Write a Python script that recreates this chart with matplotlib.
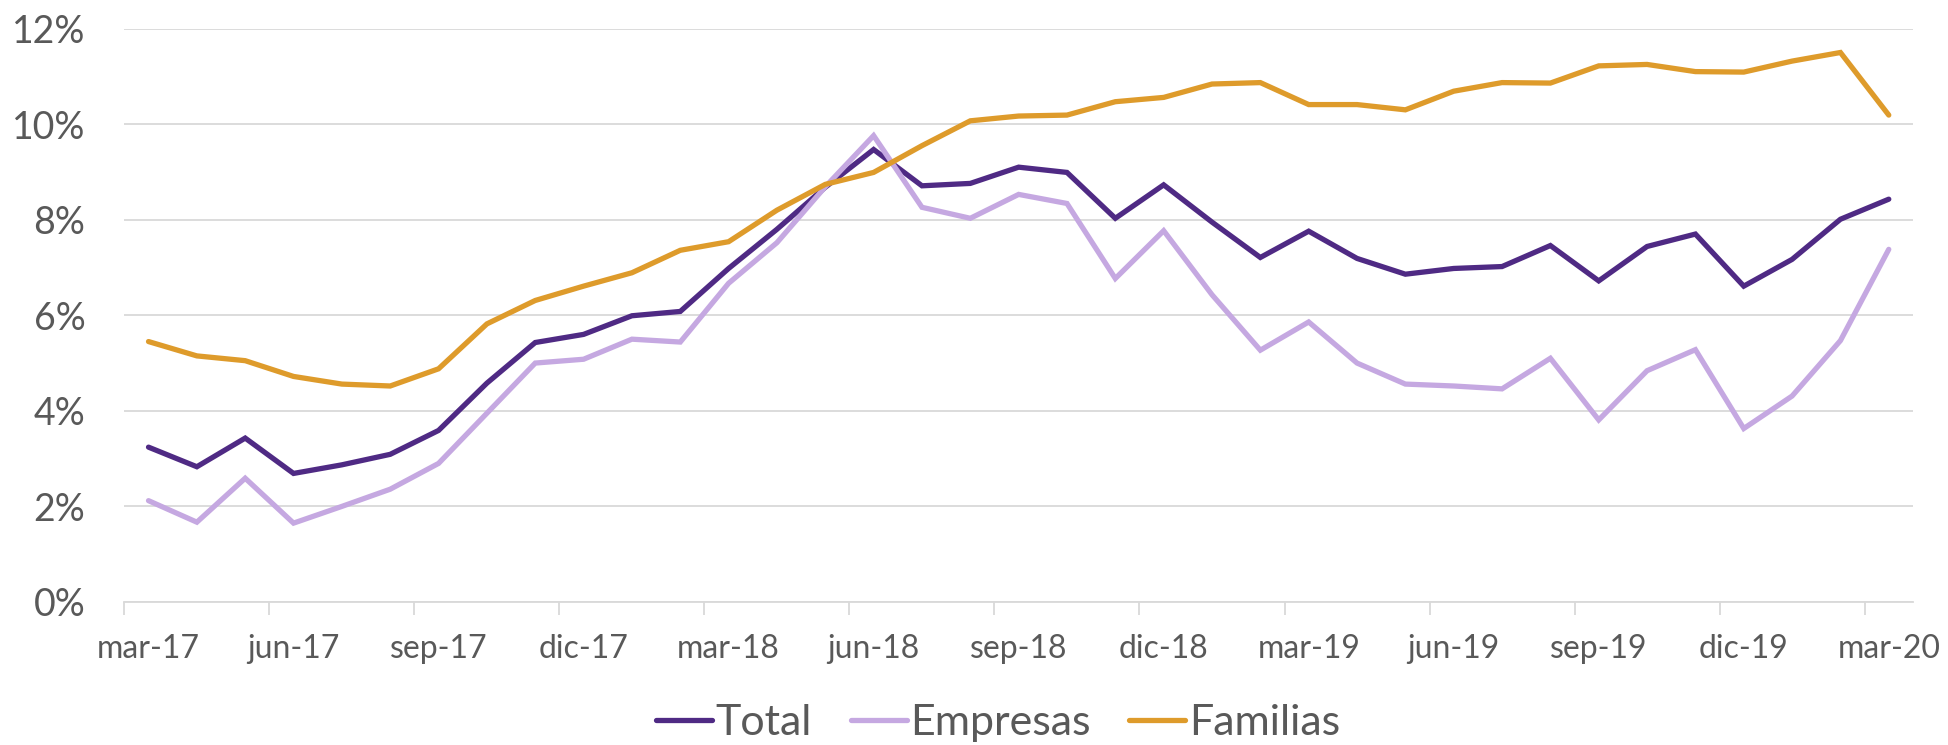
import matplotlib
matplotlib.use("Agg")
import matplotlib.pyplot as plt
from matplotlib.ticker import FixedLocator, PercentFormatter

months = ["mar-17", "abr-17", "may-17", "jun-17", "jul-17", "ago-17", "sep-17", "oct-17", "nov-17",
          "dic-17", "ene-18", "feb-18", "mar-18", "abr-18", "may-18", "jun-18", "jul-18", "ago-18",
          "sep-18", "oct-18", "nov-18", "dic-18", "ene-19", "feb-19", "mar-19", "abr-19", "may-19",
          "jun-19", "jul-19", "ago-19", "sep-19", "oct-19", "nov-19", "dic-19", "ene-20", "feb-20",
          "mar-20"]

total = [3.24, 2.83, 3.43, 2.69, 2.87, 3.09, 3.59, 4.58, 5.43, 5.60, 5.99, 6.08,
         6.98, 7.80, 8.68, 9.47, 8.71, 8.76, 9.10, 8.99, 8.03, 8.73, 7.95, 7.21,
         7.76, 7.19, 6.86, 6.98, 7.02, 7.46, 6.72, 7.44, 7.70, 6.61, 7.17, 8.01, 8.43]

empresas = [2.12, 1.67, 2.59, 1.65, 2.00, 2.36, 2.90, 3.95, 5.00, 5.08, 5.50, 5.44,
            6.67, 7.52, 8.69, 9.76, 8.26, 8.03, 8.53, 8.34, 6.77, 7.77, 6.43, 5.27,
            5.86, 5.00, 4.56, 4.52, 4.46, 5.10, 3.81, 4.84, 5.28, 3.63, 4.31, 5.47, 7.38]

familias = [5.45, 5.15, 5.05, 4.72, 4.56, 4.52, 4.88, 5.82, 6.31, 6.61, 6.89, 7.36,
            7.54, 8.20, 8.74, 8.99, 9.55, 10.07, 10.17, 10.19, 10.47, 10.56, 10.84, 10.87,
            10.41, 10.41, 10.30, 10.69, 10.87, 10.86, 11.22, 11.25, 11.10, 11.09, 11.32, 11.50, 10.19]

series = [("Total", total, "#4F2A84"),
          ("Empresas", empresas, "#C5A8E1"),
          ("Familias", familias, "#DE9B2B")]

plt.rcParams["font.family"] = ["Lato", "DejaVu Sans"]
text_color = "#595959"
grid_color = "#D9D9D9"

fig = plt.figure(figsize=(19.49, 7.45), dpi=100)
ax = fig.add_axes([0.0638, 0.192, 0.9177, 0.7696])

x = list(range(len(months)))
for name, vals, col in series:
    ax.plot(x, vals, color=col, lw=3.8, label=name, solid_joinstyle="miter",
            solid_capstyle="round")

ax.set_xlim(-0.5, len(months) - 0.5)
ax.set_ylim(0, 12)
ax.yaxis.set_major_locator(FixedLocator([0, 2, 4, 6, 8, 10, 12]))
ax.yaxis.set_major_formatter(PercentFormatter(decimals=0))
ax.grid(axis="y", color=grid_color, lw=1.3)
ax.set_axisbelow(True)

label_idx = list(range(0, len(months), 3))
ax.set_xticks(label_idx)
ax.set_xticklabels([months[i] for i in label_idx])
ax.set_xticks([i - 0.5 for i in range(0, len(months), 3)], minor=True)

ax.tick_params(axis="x", which="major", length=0, pad=23, labelsize=23, labelcolor=text_color)
ax.tick_params(axis="x", which="minor", length=9, width=1.3, color=grid_color)
ax.tick_params(axis="y", length=0, pad=28, labelsize=27, labelcolor=text_color)

for s in ["top", "right", "left"]:
    ax.spines[s].set_visible(False)
ax.spines["bottom"].set_color(grid_color)
ax.spines["bottom"].set_linewidth(1.3)

leg = fig.legend(loc="center", bbox_to_anchor=(0.512, 0.03), ncol=3, frameon=False,
                 fontsize=31, handlelength=1.3, handletextpad=0.08, columnspacing=0.9,
                 labelcolor=text_color)
for h in leg.get_lines():
    h.set_linewidth(3.8)

fig.savefig("out.png", dpi=100)
